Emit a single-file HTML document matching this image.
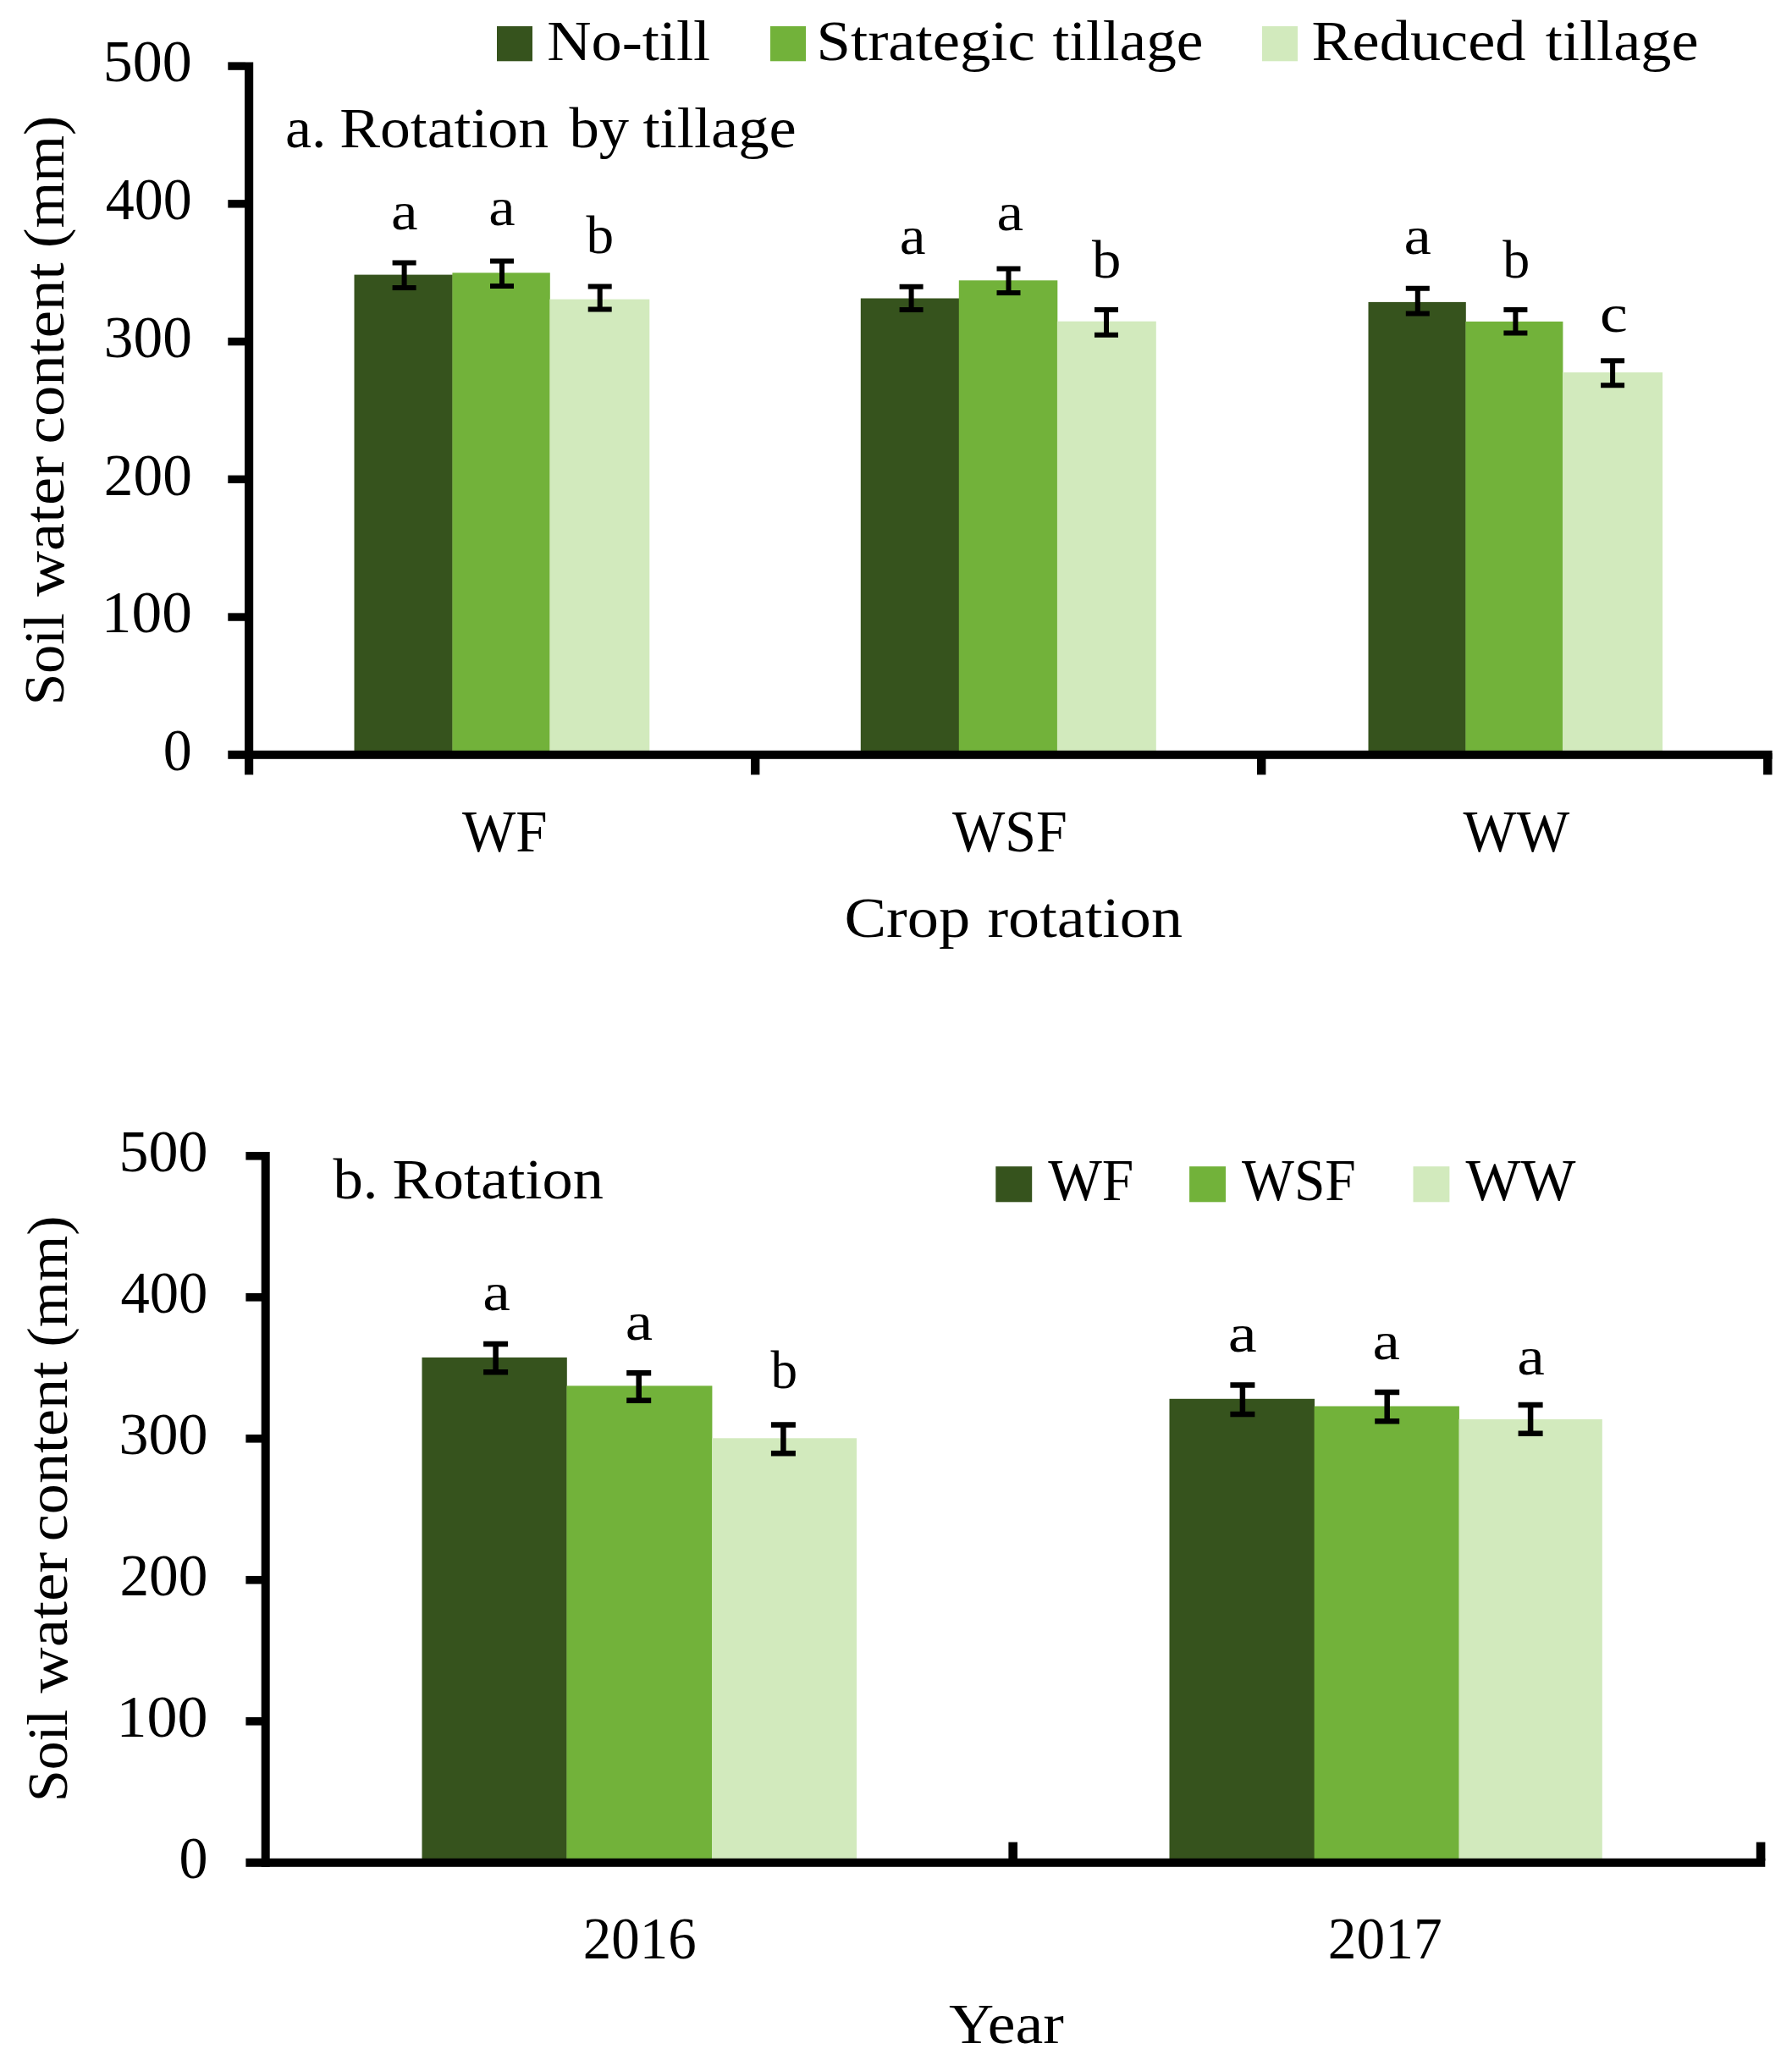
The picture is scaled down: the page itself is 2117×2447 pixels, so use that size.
<!DOCTYPE html>
<html lang="en"><head><meta charset="utf-8"><title>Soil water content by rotation and tillage</title>
<style>html,body{margin:0;padding:0;background:#fff;overflow:hidden}svg{display:block}text{font-family:"Liberation Serif", "DejaVu Serif", serif;fill:#000}</style></head><body>
<svg width="2117" height="2447" viewBox="0 0 2117 2447">
<rect x="0.00" y="0.00" width="2117.00" height="2447.00" fill="#fff"/>
<g id="chart-a">
<rect x="418.50" y="324.60" width="116.30" height="567.40" fill="#36531d"/>
<rect x="534.40" y="322.30" width="115.40" height="569.70" fill="#72b23a"/>
<rect x="649.40" y="353.60" width="117.90" height="538.40" fill="#d2eabd"/>
<rect x="1016.80" y="352.50" width="116.40" height="539.50" fill="#36531d"/>
<rect x="1132.80" y="331.30" width="116.50" height="560.70" fill="#72b23a"/>
<rect x="1248.90" y="379.70" width="116.90" height="512.30" fill="#d2eabd"/>
<rect x="1616.50" y="356.90" width="115.30" height="535.10" fill="#36531d"/>
<rect x="1731.40" y="379.90" width="115.00" height="512.10" fill="#72b23a"/>
<rect x="1846.00" y="440.00" width="118.10" height="452.00" fill="#d2eabd"/>
<rect x="289.00" y="73.50" width="10.20" height="841.90" fill="#000"/>
<rect x="269.30" y="886.80" width="1824.30" height="10.00" fill="#000"/>
<rect x="269.30" y="73.40" width="20.00" height="9.40" fill="#000"/>
<rect x="269.30" y="236.14" width="20.00" height="9.40" fill="#000"/>
<rect x="269.30" y="398.88" width="20.00" height="9.40" fill="#000"/>
<rect x="269.30" y="561.62" width="20.00" height="9.40" fill="#000"/>
<rect x="269.30" y="724.36" width="20.00" height="9.40" fill="#000"/>
<rect x="887.00" y="890.00" width="10.40" height="25.40" fill="#000"/>
<rect x="1485.00" y="890.00" width="10.40" height="25.40" fill="#000"/>
<rect x="2083.10" y="890.00" width="10.40" height="25.40" fill="#000"/>
<path d="M463.60 310.60H491.60M463.60 339.90H491.60M477.60 310.60V339.90" stroke="#000" stroke-width="6" fill="none"/>
<path d="M579.00 308.60H607.00M579.00 338.00H607.00M593.00 308.60V338.00" stroke="#000" stroke-width="6" fill="none"/>
<path d="M694.70 338.50H722.70M694.70 365.50H722.70M708.70 338.50V365.50" stroke="#000" stroke-width="6" fill="none"/>
<path d="M1062.60 338.70H1090.60M1062.60 366.00H1090.60M1076.60 338.70V366.00" stroke="#000" stroke-width="6" fill="none"/>
<path d="M1177.50 317.50H1205.50M1177.50 346.10H1205.50M1191.50 317.50V346.10" stroke="#000" stroke-width="6" fill="none"/>
<path d="M1293.00 366.00H1321.00M1293.00 395.70H1321.00M1307.00 366.00V395.70" stroke="#000" stroke-width="6" fill="none"/>
<path d="M1660.80 340.70H1688.80M1660.80 370.40H1688.80M1674.80 340.70V370.40" stroke="#000" stroke-width="6" fill="none"/>
<path d="M1776.40 366.00H1804.40M1776.40 393.40H1804.40M1790.40 366.00V393.40" stroke="#000" stroke-width="6" fill="none"/>
<path d="M1891.10 426.20H1919.10M1891.10 455.30H1919.10M1905.10 426.20V455.30" stroke="#000" stroke-width="6" fill="none"/>
<rect x="587.00" y="31.00" width="42.00" height="41.30" fill="#36531d"/>
<rect x="910.00" y="31.00" width="42.00" height="41.30" fill="#72b23a"/>
<rect x="1491.00" y="31.00" width="42.00" height="41.30" fill="#d2eabd"/>
</g>
<g id="chart-b">
<rect x="498.50" y="1603.90" width="171.30" height="597.10" fill="#36531d"/>
<rect x="669.40" y="1637.40" width="172.00" height="563.60" fill="#72b23a"/>
<rect x="841.00" y="1699.30" width="171.00" height="501.70" fill="#d2eabd"/>
<rect x="1381.50" y="1652.80" width="171.50" height="548.20" fill="#36531d"/>
<rect x="1552.60" y="1661.50" width="171.30" height="539.50" fill="#72b23a"/>
<rect x="1723.50" y="1676.90" width="169.30" height="524.10" fill="#d2eabd"/>
<rect x="308.70" y="1361.00" width="10.00" height="844.80" fill="#000"/>
<rect x="290.40" y="2195.80" width="1794.90" height="10.00" fill="#000"/>
<rect x="290.40" y="1361.00" width="20.00" height="9.60" fill="#000"/>
<rect x="290.40" y="1528.00" width="20.00" height="9.60" fill="#000"/>
<rect x="290.40" y="1695.00" width="20.00" height="9.60" fill="#000"/>
<rect x="290.40" y="1862.00" width="20.00" height="9.60" fill="#000"/>
<rect x="290.40" y="2029.00" width="20.00" height="9.60" fill="#000"/>
<rect x="1191.40" y="2176.60" width="10.60" height="22.00" fill="#000"/>
<rect x="2074.80" y="2176.60" width="10.60" height="22.00" fill="#000"/>
<path d="M571.10 1588.05H600.10M571.10 1621.35H600.10M585.60 1588.05V1621.35" stroke="#000" stroke-width="6.5" fill="none"/>
<path d="M740.20 1622.25H769.20M740.20 1654.85H769.20M754.70 1622.25V1654.85" stroke="#000" stroke-width="6.5" fill="none"/>
<path d="M910.90 1683.45H939.90M910.90 1717.15H939.90M925.40 1683.45V1717.15" stroke="#000" stroke-width="6.5" fill="none"/>
<path d="M1453.40 1636.55H1482.40M1453.40 1670.95H1482.40M1467.90 1636.55V1670.95" stroke="#000" stroke-width="6.5" fill="none"/>
<path d="M1624.20 1644.95H1653.20M1624.20 1679.35H1653.20M1638.70 1644.95V1679.35" stroke="#000" stroke-width="6.5" fill="none"/>
<path d="M1793.60 1660.05H1822.60M1793.60 1693.75H1822.60M1808.10 1660.05V1693.75" stroke="#000" stroke-width="6.5" fill="none"/>
<rect x="1176.30" y="1378.20" width="42.90" height="42.10" fill="#36531d"/>
<rect x="1405.10" y="1378.20" width="42.90" height="42.10" fill="#72b23a"/>
<rect x="1669.50" y="1378.20" width="42.90" height="42.10" fill="#d2eabd"/>
</g>
<g id="labels">
<text id="la1" x="646.20" y="71.00" style="font-size:68px" textLength="193.00" lengthAdjust="spacingAndGlyphs">No-till</text>
<text id="la2" y="70.60" style="font-size:68px"><tspan x="964.60" textLength="258.20" lengthAdjust="spacingAndGlyphs">Strategic</tspan> <tspan x="1243.40" textLength="178.00" lengthAdjust="spacingAndGlyphs">tillage</tspan></text>
<text id="la3" y="71.00" style="font-size:68px"><tspan x="1549.40" textLength="253.00" lengthAdjust="spacingAndGlyphs">Reduced</tspan> <tspan x="1825.80" textLength="180.70" lengthAdjust="spacingAndGlyphs">tillage</tspan></text>
<text id="ta" y="174.30" style="font-size:68px"><tspan x="337.00" textLength="48.40" lengthAdjust="spacingAndGlyphs">a.</tspan> <tspan x="401.20" textLength="246.80" lengthAdjust="spacingAndGlyphs">Rotation</tspan> <tspan x="672.40" textLength="70.60" lengthAdjust="spacingAndGlyphs">by</tspan> <tspan x="759.40" textLength="181.40" lengthAdjust="spacingAndGlyphs">tillage</tspan></text>
<text id="xa1" x="546.00" y="1005.50" style="font-size:69px" textLength="100.60" lengthAdjust="spacingAndGlyphs">WF</text>
<text id="xa2" x="1125.00" y="1005.50" style="font-size:69px" textLength="135.80" lengthAdjust="spacingAndGlyphs">WSF</text>
<text id="xa3" x="1728.60" y="1005.50" style="font-size:69px" textLength="125.60" lengthAdjust="spacingAndGlyphs">WW</text>
<text id="xta" y="1106.50" style="font-size:68px"><tspan x="997.40" textLength="148.80" lengthAdjust="spacingAndGlyphs">Crop</tspan> <tspan x="1166.40" textLength="230.60" lengthAdjust="spacingAndGlyphs">rotation</tspan></text>
<text id="a1" x="462.00" y="271.00" style="font-size:63px" textLength="31.60" lengthAdjust="spacingAndGlyphs">a</text>
<text id="a2" x="577.20" y="266.30" style="font-size:63px" textLength="31.40" lengthAdjust="spacingAndGlyphs">a</text>
<text id="a3" x="692.40" y="298.90" style="font-size:63px" textLength="32.60" lengthAdjust="spacingAndGlyphs">b</text>
<text id="a4" x="1062.80" y="299.80" style="font-size:63px" textLength="30.80" lengthAdjust="spacingAndGlyphs">a</text>
<text id="a5" x="1177.40" y="272.10" style="font-size:63px" textLength="31.60" lengthAdjust="spacingAndGlyphs">a</text>
<text id="a6" x="1290.00" y="328.30" style="font-size:63px" textLength="34.40" lengthAdjust="spacingAndGlyphs">b</text>
<text id="a7" x="1658.40" y="299.80" style="font-size:63px" textLength="32.40" lengthAdjust="spacingAndGlyphs">a</text>
<text id="a8" x="1775.20" y="327.90" style="font-size:63px" textLength="32.00" lengthAdjust="spacingAndGlyphs">b</text>
<text id="a9" x="1890.00" y="392.00" style="font-size:63px" textLength="32.80" lengthAdjust="spacingAndGlyphs">c</text>
<text id="tb" y="1416.00" style="font-size:68px"><tspan x="393.40" textLength="53.00" lengthAdjust="spacingAndGlyphs">b.</tspan> <tspan x="463.40" textLength="249.60" lengthAdjust="spacingAndGlyphs">Rotation</tspan></text>
<text id="lb1" x="1238.20" y="1417.50" style="font-size:69px" textLength="101.20" lengthAdjust="spacingAndGlyphs">WF</text>
<text id="lb2" x="1467.00" y="1417.50" style="font-size:69px" textLength="134.80" lengthAdjust="spacingAndGlyphs">WSF</text>
<text id="lb3" x="1731.60" y="1417.50" style="font-size:69px" textLength="130.00" lengthAdjust="spacingAndGlyphs">WW</text>
<text id="xb1" x="688.80" y="2313.80" style="font-size:69px" textLength="133.80" lengthAdjust="spacingAndGlyphs">2016</text>
<text id="xb2" x="1568.80" y="2313.80" style="font-size:69px" textLength="134.80" lengthAdjust="spacingAndGlyphs">2017</text>
<text id="xtb" x="1121.00" y="2414.30" style="font-size:68px" textLength="135.80" lengthAdjust="spacingAndGlyphs">Year</text>
<text id="b1" x="570.20" y="1548.00" style="font-size:63px" textLength="32.60" lengthAdjust="spacingAndGlyphs">a</text>
<text id="b2" x="738.80" y="1583.10" style="font-size:63px" textLength="32.40" lengthAdjust="spacingAndGlyphs">a</text>
<text id="b3" x="910.40" y="1640.00" style="font-size:63px" textLength="31.60" lengthAdjust="spacingAndGlyphs">b</text>
<text id="b4" x="1450.80" y="1597.20" style="font-size:63px" textLength="34.00" lengthAdjust="spacingAndGlyphs">a</text>
<text id="b5" x="1621.60" y="1605.60" style="font-size:63px" textLength="32.40" lengthAdjust="spacingAndGlyphs">a</text>
<text id="b6" x="1792.20" y="1624.00" style="font-size:63px" textLength="32.60" lengthAdjust="spacingAndGlyphs">a</text>
<text id="ya0" x="121.80" y="96.40" style="font-size:69px" textLength="105.00" lengthAdjust="spacingAndGlyphs">500</text>
<text id="ya1" x="124.80" y="259.14" style="font-size:69px" textLength="102.00" lengthAdjust="spacingAndGlyphs">400</text>
<text id="ya2" x="122.80" y="421.88" style="font-size:69px" textLength="104.00" lengthAdjust="spacingAndGlyphs">300</text>
<text id="ya3" x="122.80" y="584.62" style="font-size:69px" textLength="104.00" lengthAdjust="spacingAndGlyphs">200</text>
<text id="ya4" x="119.80" y="747.36" style="font-size:69px" textLength="107.00" lengthAdjust="spacingAndGlyphs">100</text>
<text id="ya5" x="192.80" y="910.10" style="font-size:69px" textLength="34.00" lengthAdjust="spacingAndGlyphs">0</text>
<text id="yb0" x="140.40" y="1384.40" style="font-size:69px" textLength="105.00" lengthAdjust="spacingAndGlyphs">500</text>
<text id="yb1" x="142.40" y="1551.40" style="font-size:69px" textLength="103.00" lengthAdjust="spacingAndGlyphs">400</text>
<text id="yb2" x="140.40" y="1718.40" style="font-size:69px" textLength="105.00" lengthAdjust="spacingAndGlyphs">300</text>
<text id="yb3" x="141.40" y="1885.40" style="font-size:69px" textLength="104.00" lengthAdjust="spacingAndGlyphs">200</text>
<text id="yb4" x="137.40" y="2052.40" style="font-size:69px" textLength="108.00" lengthAdjust="spacingAndGlyphs">100</text>
<text id="yb5" x="211.40" y="2219.40" style="font-size:69px" textLength="34.00" lengthAdjust="spacingAndGlyphs">0</text>
<text id="rya" transform="translate(74.80 0) rotate(-90)" y="0" style="font-size:68px"><tspan x="-833.20" textLength="108.60" lengthAdjust="spacingAndGlyphs">Soil</tspan> <tspan x="-704.80" textLength="165.80" lengthAdjust="spacingAndGlyphs">water</tspan> <tspan x="-524.40" textLength="214.00" lengthAdjust="spacingAndGlyphs">content</tspan> <tspan x="-293.00" textLength="156.60" lengthAdjust="spacingAndGlyphs">(mm)</tspan></text>
<text id="ryb" transform="translate(79.30 0) rotate(-90)" y="0" style="font-size:68px"><tspan x="-2129.00" textLength="109.20" lengthAdjust="spacingAndGlyphs">Soil</tspan> <tspan x="-2000.40" textLength="166.60" lengthAdjust="spacingAndGlyphs">water</tspan> <tspan x="-1821.20" textLength="212.40" lengthAdjust="spacingAndGlyphs">content</tspan> <tspan x="-1591.40" textLength="154.80" lengthAdjust="spacingAndGlyphs">(mm)</tspan></text>
</g>
</svg></body></html>
